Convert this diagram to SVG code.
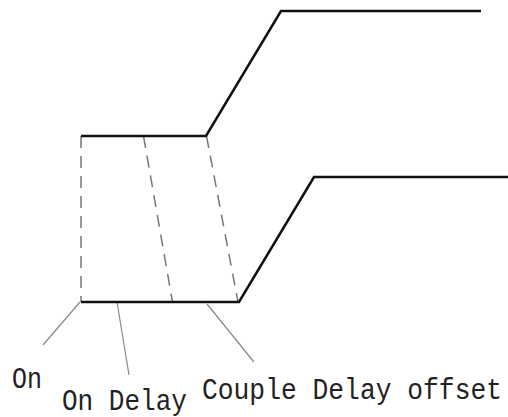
<svg xmlns="http://www.w3.org/2000/svg" width="508" height="417" viewBox="0 0 508 417">
<style>
.wave{fill:none;stroke:#111;stroke-width:2.5;stroke-linejoin:miter}
.dash{fill:none;stroke:#777;stroke-width:1.5;stroke-dasharray:12 8}
.lead{fill:none;stroke:#888;stroke-width:1.2}
.lbl{font-family:"Liberation Mono",monospace;font-size:29px;fill:#222}
</style>
<rect width="508" height="417" fill="#fff"/>
<g id="connectors">
<path class="dash" d="M81,136 L81,302"/>
<path class="dash" d="M143.5,136 L172.5,302"/>
<path class="dash" d="M206.5,136 L238,302"/>
<path class="lead" d="M80,302 L43,345"/>
<path class="lead" d="M117,302 L129,375"/>
<path class="lead" d="M207,304 L254,362"/>
</g>
<g id="wave-top"><path class="wave" d="M81,136 L206,136 L281,11 L481,11"/></g>
<g id="wave-bottom"><path class="wave" d="M81,302 L239,302 L314,177 L508,177"/></g>
<g id="label-on"><text class="lbl" x="12" y="388" textLength="30" lengthAdjust="spacingAndGlyphs">On</text></g>
<g id="label-ondelay"><text class="lbl" x="62" y="410" textLength="125" lengthAdjust="spacingAndGlyphs">On Delay</text></g>
<g id="label-couple"><text class="lbl" x="202" y="399" textLength="300" lengthAdjust="spacingAndGlyphs">Couple Delay offset</text></g>
</svg>
